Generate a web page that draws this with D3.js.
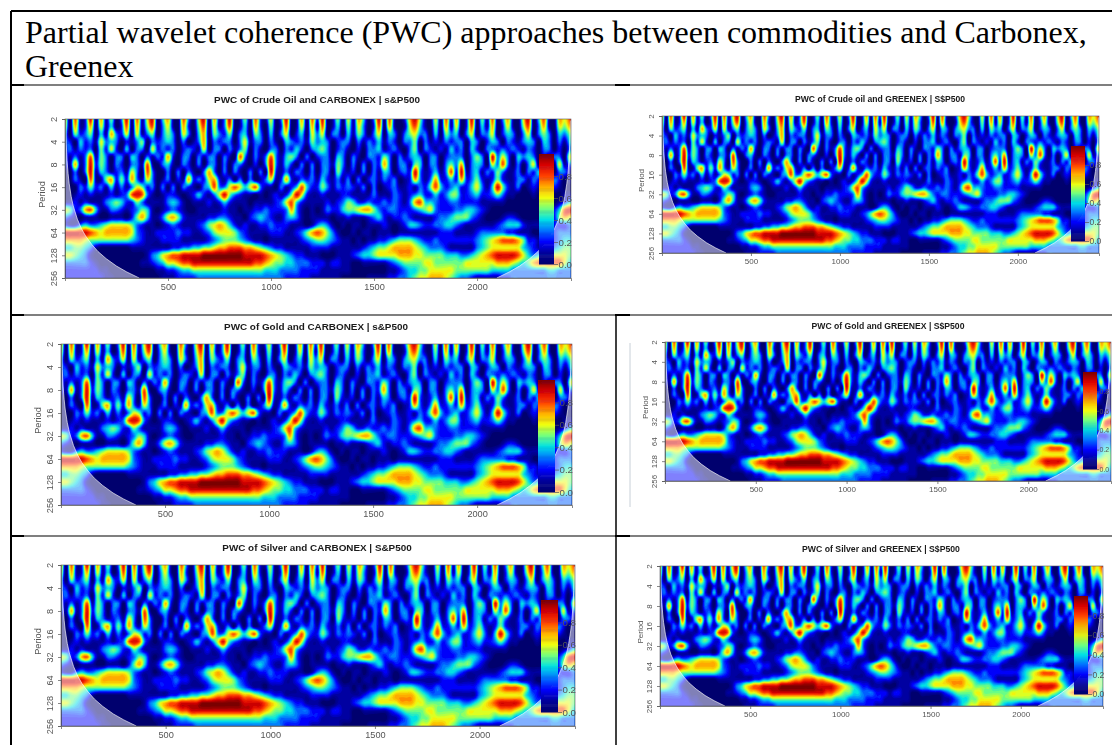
<!DOCTYPE html>
<html>
<head>
<meta charset="utf-8">
<script src="https://cdn.jsdelivr.net/npm/d3@7"></script>
<style>
  html, body { margin: 0; padding: 0; background: #fff; overflow: hidden; }
  svg { display: block; }
  .panel-title { font-family: "Liberation Sans", Arial, sans-serif; font-weight: bold; fill: #1a1a1a; text-anchor: middle; }
  .axis text, .period-label, .legend-axis text { font-family: "Liberation Sans", Arial, sans-serif; fill: #555; }
  .axis path, .axis line, .legend-axis line { stroke: #555; stroke-width: 0.7; }
  .legend-axis path { display: none; }
</style>
</head>
<body>
<script>
var heading = ["Partial wavelet coherence (PWC) approaches between commodities and Carbonex,", "Greenex"];
var panelTitles = [
  "PWC of Crude Oil and CARBONEX | s&P500",
  "PWC of Crude oil and GREENEX | S$P500",
  "PWC of Gold and CARBONEX | s&P500",
  "PWC of Gold and GREENEX | S$P500",
  "PWC of Silver and CARBONEX | S&P500",
  "PWC of Silver and GREENEX | S$P500"
];
var xTicks = [500, 1000, 1500, 2000];
var periodTicks = [2, 4, 8, 16, 32, 64, 128, 256];
var legendTicks = [0, 0.2, 0.4, 0.6, 0.8];
var observations = 2456;
var timeStep = 25; // one character in coherenceRows = 25 observations

// cone of influence (distance from either edge, period)
var coiOffset = [3, 6, 10, 15, 20, 30, 40, 60, 80, 100, 130, 160, 200, 250, 300, 360];
var coiPeriod = [2.1, 4.3, 7.1, 10.6, 14.2, 21.3, 28.4, 42.6, 56.8, 71, 92, 114, 142, 178, 213, 256];

// coherence read by eye, one string per third of an octave from period 2 down to 256
// each character is coherence x 10 (a = 1.0), spaces only mark every tenth column
// the six panels are practically the same picture
var coherenceRows = [
  "7081290715 0390816904 7108306907 1390150821 6039017082 9015061740 3908102795 1060817029 0518037106 9048107689",
  "6071270614 0280715803 6107205806 1380140720 5028016071 8014051630 2807101684 1050716028 0417026105 8037106578",
  "4052350417 3260613503 5306304705 3250340530 4036024063 6033041530 3604303563 3040534036 0336024303 6035304356",
  "3204231634 3021350323 4303013703 2330361330 3104323153 4302330313 2413203350 3121323304 3024303213 4304303145",
  "2313230526 2040330623 2302321603 3031350310 3303242034 5302310203 3412310350 3212142304 2033232321 3203302034",
  "3131381530 3304303132 7203303133 0310830313 8314530302 3304303103 3253031343 0330233303 5309363043 4302133064",
  "3171392530 3203318103 4103203033 0303310203 9314203030 3315303030 3273033154 0330353703 4306383030 3603206133",
  "1030391431 2316308300 3030310373 0303103030 9213132030 3305212030 3143023293 1241382913 4132531130 3241303310",
  "0031081157 2527316301 3021723267 2130303013 6127213231 4213130302 3132301273 1372242723 5212521133 1321032010",
  "0003252314 1313652303 0303210348 3368646831 1031248422 5313232130 3012311213 2584234224 6314952130 1210021000",
  "0012121112 1238983101 2210124213 6953211010 1212596211 2111221111 3111321234 2242355223 4223531100 0100000111",
  "1121211134 5422531111 3431011121 2421110111 1236842111 1212354223 2232321378 4432233222 2111110000 0000001245",
  "6523784113 3212354101 2321001111 1211011223 2223731010 1322455677 5323322234 5632223344 3210000000 0001124898",
  "3210111001 1102574113 6752111122 3321102343 2113431011 1101121112 3421223211 1123345553 2100012210 0000125765",
  "2113433456 6665321101 2321112356 7642121122 3222111013 4310101101 1121012443 2233443211 1111234442 1110022233",
  "9999987677 7776321122 2232211235 6665321111 2221123578 7531001011 0111011111 1112221111 2333332211 1000123332",
  "7777655555 5554321112 2221111123 4555432110 1111112345 5432110101 1223455543 2232222222 3456788875 2211123443",
  "4455431000 0001111111 1223344556 7788877654 3221111122 2211111123 4556777765 4333211111 3456666664 3210134554",
  "6654310000 0000001346 7889999aaa aaaaa99998 7654322111 0001112344 5666677766 5555444334 5678999986 4345566655",
  "3333321000 0000011234 6678899999 9999999887 6554433322 2122110011 1112345555 6655555566 6666777654 5788888644",
  "2222222110 0000000011 2234455555 5555555554 4433332222 1111110000 0001123445 5666665555 5554444333 3333443333",
  "2222222211 0000000001 1122223333 3333333333 3332222211 1111000001 1112233456 6777654332 1111122333 3333333333"
].map(function(row) { return row.replace(/ /g, ""); });

var colourStops = [0, 0.1, 0.2, 0.3, 0.4, 0.5, 0.6, 0.7, 0.8, 0.9, 1];
var colourNames = ["#00006e", "#00009c", "#0000ff", "#0070ff", "#00e0e8", "#70ff80", "#f0ff10", "#ffb000", "#ff4000", "#d80000", "#7a0000"];

// where each screenshot sits on the page
var panelBoxes = [
  { left: 65, right: 571, top: 119, bottom: 278, titleX: 317, titleY: 103, titleSize: 9.9, tick: 9.2, legendFont: 9.7, legendTick: 4, labelX: 45, barL: 539, barR: 554, barT: 154, barB: 264 },
  { left: 662, right: 1099, top: 116, bottom: 253, titleX: 880, titleY: 102, titleSize: 8.6, tick: 8, legendFont: 8.5, legendTick: 4, labelX: 644, barL: 1071, barR: 1085, barT: 146, barB: 241 },
  { left: 61, right: 572, top: 344, bottom: 505, titleX: 316, titleY: 330, titleSize: 9.9, tick: 9.2, legendFont: 9.7, legendTick: 4, labelX: 41, barL: 538, barR: 555, barT: 380, barB: 492 },
  { left: 665, right: 1111, top: 342, bottom: 481, titleX: 888, titleY: 329, titleSize: 8.65, tick: 8, legendFont: 7, legendTick: 2, labelX: 648, barL: 1083, barR: 1097, barT: 372, barB: 469 },
  { left: 61, right: 575, top: 565, bottom: 726, titleX: 317, titleY: 551, titleSize: 9.9, tick: 9.2, legendFont: 9.7, legendTick: 4, labelX: 41, barL: 541, barR: 558, barT: 600, barB: 712 },
  { left: 660, right: 1103, top: 566, bottom: 706, titleX: 881, titleY: 552, titleSize: 8.7, tick: 8, legendFont: 8.5, legendTick: 4, labelX: 643, barL: 1074, barR: 1088, barT: 596, barB: 694 }
];

var width = 1112, height = 745;
var svg = d3.select("body").append("svg").attr("width", width).attr("height", height);

var defs = svg.append("defs");
defs.append("filter").attr("id", "soft").attr("x", "-2%").attr("y", "-2%").attr("width", "104%").attr("height", "104%")
  .append("feGaussianBlur").attr("stdDeviation", 0.6);
defs.append("filter").attr("id", "softText").attr("x", "-5%").attr("y", "-20%").attr("width", "110%").attr("height", "140%")
  .append("feGaussianBlur").attr("stdDeviation", 0.25);

var colour = d3.scaleLinear().domain(colourStops).range(colourNames).clamp(true);

var nCols = coherenceRows[0].length;
var nRows = coherenceRows.length;
var cell = function(r, c) {
  r = Math.max(0, Math.min(nRows - 1, r));
  c = Math.max(0, Math.min(nCols - 1, c));
  return parseInt(coherenceRows[r][c], 36) / 10;
};
function cubic(a, b, c, d, t) {
  return b + 0.5 * t * (c - a + t * (2 * a - 5 * b + 4 * c - d + t * (3 * (b - c) + d - a)));
}
// only resamples the hand read cells so the contours come out round, like image(..., interpolate)
var xFine = 4, yFine = 3;
var fineCols = (nCols - 1) * xFine + 1;
var fineRows = (nRows - 1) * yFine + 1;
var grid = new Array(fineCols * fineRows);
for (var fr = 0; fr < fineRows; fr++) {
  var r0 = Math.floor(fr / yFine), ty = fr / yFine - r0;
  for (var fc = 0; fc < fineCols; fc++) {
    var c0 = Math.floor(fc / xFine), tx = fc / xFine - c0;
    var across = [-1, 0, 1, 2].map(function(dr) {
      return cubic(cell(r0 + dr, c0 - 1), cell(r0 + dr, c0), cell(r0 + dr, c0 + 1), cell(r0 + dr, c0 + 2), tx);
    });
    grid[fr * fineCols + fc] = Math.max(0, Math.min(1, cubic(across[0], across[1], across[2], across[3], ty)));
  }
}
var thresholds = d3.range(0.03, 1.0, 0.03);
var bands = d3.contours().size([fineCols, fineRows]).thresholds(thresholds)(grid);

function drawPanel(box, i) {
  var g = svg.append("g");
  var x = d3.scaleLinear().domain([0, observations]).range([box.left, box.right]);
  var y = d3.scaleLog().base(2).domain([2, 256]).range([box.top, box.bottom]);

  g.append("clipPath").attr("id", "clip" + i).append("rect")
    .attr("x", box.left).attr("y", box.top)
    .attr("width", box.right - box.left).attr("height", box.bottom - box.top);

  // contour coordinates are cell based, a sample sits at +0.5
  var toPlot = d3.geoTransform({
    point: function(cx, cy) {
      this.stream.point(x((cx - 0.5) / xFine * timeStep), y(Math.pow(2, 1 + (cy - 0.5) / yFine / 3)));
    }
  });
  var path = d3.geoPath(toPlot);

  var soft = g.append("g").attr("filter", "url(#soft)");
  var plot = soft.append("g").attr("clip-path", "url(#clip" + i + ")");
  plot.append("rect")
    .attr("x", box.left).attr("y", box.top)
    .attr("width", box.right - box.left).attr("height", box.bottom - box.top)
    .attr("fill", colour(0));
  plot.selectAll("path.band").data(bands).enter().append("path")
    .attr("class", "band")
    .attr("d", path)
    .attr("fill", function(d) { return colour(d.value + 0.015); });

  // cone of influence on both sides
  var coiData = coiOffset.map(function(o, k) { return { offset: o, period: coiPeriod[k] }; });
  var coiLeft = d3.area().x(function(d) { return x(d.offset); }).y0(box.bottom).y1(function(d) { return y(d.period); });
  var coiRight = d3.area().x(function(d) { return x(observations - d.offset); }).y0(box.bottom).y1(function(d) { return y(d.period); });
  [coiLeft, coiRight].forEach(function(a) {
    plot.append("path").datum(coiData).attr("d", a).attr("fill", "#fff").attr("fill-opacity", 0.5);
    plot.append("path").datum(coiData).attr("d", a.lineY1()).attr("fill", "none").attr("stroke", "#fff").attr("stroke-width", 0.8).attr("stroke-opacity", 0.8);
  });

  // colour bar
  var legendY = d3.scaleLinear().domain([0, 1]).range([box.barB, box.barT]);
  var legendSteps = d3.range(0, 1, 0.01);
  soft.append("g").selectAll("rect").data(legendSteps).enter().append("rect")
    .attr("x", box.barL)
    .attr("y", function(d) { return legendY(d + 0.01); })
    .attr("width", box.barR - box.barL)
    .attr("height", function(d) { return legendY(d) - legendY(d + 0.01) + 0.5; })
    .attr("fill", function(d) { return colour(d); });

  var text = g.append("g").attr("filter", "url(#softText)");
  text.append("g").attr("class", "legend-axis")
    .attr("transform", "translate(" + box.barR + ",0)")
    .call(d3.axisRight(legendY).tickValues(legendTicks).tickFormat(d3.format(".1f")).tickSize(box.legendTick).tickPadding(0.5))
    .selectAll("text").style("font-size", box.legendFont + "px");

  // frame and axes
  text.append("rect")
    .attr("x", box.left).attr("y", box.top)
    .attr("width", box.right - box.left).attr("height", box.bottom - box.top)
    .attr("fill", "none").attr("stroke", "#556").attr("stroke-width", 0.6);

  text.append("g").attr("class", "axis")
    .attr("transform", "translate(0," + box.bottom + ")")
    .call(d3.axisBottom(x).tickValues(xTicks).tickFormat(d3.format("d")).tickSize(3).tickPadding(2))
    .selectAll("text").style("font-size", box.tick + "px");

  var yAxis = text.append("g").attr("class", "axis")
    .attr("transform", "translate(" + box.left + ",0)")
    .call(d3.axisLeft(y).tickValues(periodTicks).tickFormat(d3.format("d")).tickSize(3));
  yAxis.selectAll("text")
    .style("font-size", box.tick + "px")
    .attr("text-anchor", "middle")
    .attr("x", 0).attr("dy", 0)
    .attr("transform", "translate(-8,0) rotate(-90)");

  text.append("text").attr("class", "period-label")
    .attr("transform", "translate(" + box.labelX + "," + ((box.top + box.bottom) / 2 - 4) + ") rotate(-90)")
    .attr("text-anchor", "middle")
    .style("font-size", box.tick + "px")
    .text("Period");

  text.append("text").attr("class", "panel-title")
    .attr("x", box.titleX).attr("y", box.titleY)
    .style("font-size", box.titleSize + "px")
    .text(panelTitles[i]);
}

panelBoxes.forEach(drawPanel);

// word table around the pictures
var tableRules = [
  [11, 11, 1112, 11, 2], [11, 85, 1112, 85, 1.2], [11, 315, 1112, 315, 1.2], [11, 536, 1112, 536, 1.2],
  [11, 11, 11, 745, 2], [616, 315, 616, 745, 1.5],
  [11, 85, 24, 85, 2], [615, 85, 630, 85, 2], [11, 315, 24, 315, 2], [615, 315, 630, 315, 2], [11, 536, 24, 536, 2], [615, 536, 630, 536, 2]
];
svg.append("g").selectAll("line").data(tableRules).enter().append("line")
  .attr("x1", function(d) { return d[0]; }).attr("y1", function(d) { return d[1]; })
  .attr("x2", function(d) { return d[2]; }).attr("y2", function(d) { return d[3]; })
  .attr("stroke", "#000").attr("stroke-width", function(d) { return d[4]; });
svg.append("line").attr("x1", 630).attr("y1", 343).attr("x2", 630).attr("y2", 507).attr("stroke", "#c8d0d8").attr("stroke-width", 1);

svg.append("g").selectAll("text").data(heading).enter().append("text")
  .attr("x", 25)
  .attr("y", function(d, i) { return 43 + i * 34; })
  .attr("font-family", "'Liberation Serif', 'Times New Roman', serif")
  .attr("font-size", 32)
  .attr("fill", "#000")
  .text(function(d) { return d; });
</script>
</body>
</html>
